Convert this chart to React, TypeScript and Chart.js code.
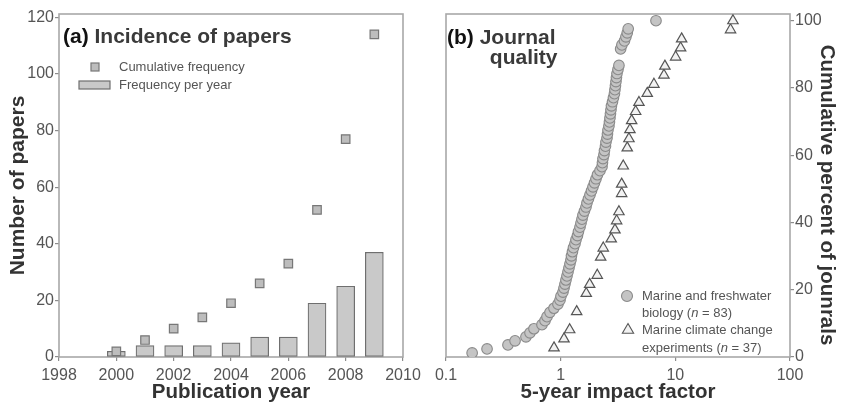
import React, { useEffect, useRef } from "react";
import { Chart, registerables } from "chart.js";

Chart.register(...registerables);

const FONT = '"Liberation Sans", Arial, Helvetica, sans-serif';

// ---- Panel (a) data ----
const years = [2000, 2001, 2002, 2003, 2004, 2005, 2006, 2007, 2008, 2009];
const perYear = [2, 4, 4, 4, 5, 7, 7, 19, 25, 37];
const cumulative = [2, 6, 10, 14, 19, 26, 33, 52, 77, 114];
const yearTicks = [1998, 2000, 2002, 2004, 2006, 2008, 2010];
const paperTicks = [0, 20, 40, 60, 80, 100, 120];

// ---- Panel (b) data ----
const bioIF = [
  0.169, 0.228, 0.347, 0.4, 0.498, 0.54, 0.585, 0.687, 0.73, 0.76,
  0.807, 0.874, 0.947, 0.986, 1.006, 1.047, 1.069, 1.09, 1.112, 1.135,
  1.158, 1.181, 1.205, 1.23, 1.242, 1.267, 1.293, 1.333, 1.36, 1.401,
  1.429, 1.473, 1.503, 1.534, 1.564, 1.611, 1.662, 1.695, 1.746, 1.8,
  1.856, 1.913, 1.972, 2.032, 2.094, 2.202, 2.293, 2.314, 2.338, 2.386,
  2.409, 2.459, 2.483, 2.535, 2.559, 2.585, 2.636, 2.663, 2.69, 2.717,
  2.745, 2.772, 2.831, 2.886, 2.944, 2.973, 3.004, 3.035, 3.064, 3.097,
  3.16, 3.222, 3.334, 3.42, 3.6, 3.707, 3.808, 3.881, 6.78,
];
const bioPct = [
  1.2, 2.4, 3.6, 4.8, 6.0, 7.2, 8.4, 9.6, 10.8, 12.0,
  13.3, 14.5, 15.7, 16.9, 18.1, 19.3, 20.5, 21.7, 22.9, 24.1,
  25.3, 26.5, 27.7, 28.9, 30.1, 31.3, 32.5, 33.7, 34.9, 36.1,
  37.3, 38.6, 39.8, 41.0, 42.2, 43.4, 44.6, 45.8, 47.0, 48.2,
  49.4, 50.6, 51.8, 53.0, 54.2, 55.4, 56.6, 57.8, 59.0, 60.2,
  61.4, 62.7, 63.9, 65.1, 66.3, 67.5, 68.7, 69.9, 71.1, 72.3,
  73.5, 74.7, 75.9, 77.1, 78.3, 79.5, 80.7, 81.9, 83.1, 84.3,
  85.5, 86.7, 91.6, 92.8, 94.0, 95.2, 96.4, 97.6, 100,
];
const expIF = [
  0.875, 1.069, 1.198, 1.379, 1.672, 1.79, 2.085, 2.232, 2.352, 2.761,
  2.975, 3.077, 3.222, 3.404, 3.404, 3.514, 3.807, 3.94, 4.019, 4.159,
  4.507, 4.817, 5.689, 6.507, 7.956, 8.11, 10.06, 11.12, 11.35, 30.3, 31.8,
];
const expPct = [
  2.7, 5.4, 8.1, 13.5, 18.9, 21.6, 24.3, 29.7, 32.4, 35.1,
  37.8, 40.5, 43.2, 48.6, 51.4, 56.8, 62.2, 64.9, 67.6, 70.3,
  73.0, 75.7, 78.4, 81.1, 83.8, 86.5, 89.2, 91.9, 94.6, 97.3, 100,
];
const ifTicks = [0.1, 1, 10, 100];
const pctTicks = [0, 20, 40, 60, 80, 100];

const TICK_COLOR = "#555";
const TITLE_COLOR = "#333";
const FRAME_COLOR = "#a8a8a8";

const framePlugin = {
  id: "frame",
  beforeDatasetsDraw(chart: any) {
    const { ctx, chartArea: a } = chart;
    ctx.save();
    ctx.strokeStyle = FRAME_COLOR;
    ctx.lineWidth = 1.6;
    ctx.strokeRect(a.left, a.top, a.right - a.left, a.bottom - a.top);
    ctx.restore();
  },
};

function drawTriangle(ctx: CanvasRenderingContext2D, x: number, y: number, r: number) {
  ctx.beginPath();
  for (let k = 0; k < 3; k++) {
    const ang = (k * 2 * Math.PI) / 3;
    const px = x + Math.sin(ang) * r;
    const py = y - Math.cos(ang) * r;
    if (k === 0) ctx.moveTo(px, py);
    else ctx.lineTo(px, py);
  }
  ctx.closePath();
}

const leftDecor = {
  id: "leftDecor",
  afterDraw(chart: any) {
    const ctx: CanvasRenderingContext2D = chart.ctx;
    const a = chart.chartArea;
    ctx.save();
    // panel title
    ctx.textBaseline = "alphabetic";
    ctx.textAlign = "left";
    ctx.font = `bold 21px ${FONT}`;
    const tx = a.left + 4;
    const ty = a.top + 29;
    ctx.fillStyle = "#111";
    ctx.fillText("(a)", tx, ty);
    const w = ctx.measureText("(a) ").width;
    ctx.fillStyle = "#3a3a3a";
    ctx.fillText("Incidence of papers", tx + w, ty);
    // legend
    ctx.lineWidth = 1.2;
    ctx.fillStyle = "#bdbdbd";
    ctx.strokeStyle = "#777";
    ctx.fillRect(a.left + 32, a.top + 49, 8, 8);
    ctx.strokeRect(a.left + 32, a.top + 49, 8, 8);
    ctx.fillStyle = "#c9c9c9";
    ctx.strokeStyle = "#6f6f6f";
    ctx.fillRect(a.left + 20, a.top + 67, 31, 8);
    ctx.strokeRect(a.left + 20, a.top + 67, 31, 8);
    ctx.font = `13px ${FONT}`;
    ctx.fillStyle = "#555";
    ctx.textBaseline = "middle";
    ctx.fillText("Cumulative frequency", a.left + 60, a.top + 53);
    ctx.fillText("Frequency per year", a.left + 60, a.top + 71);
    ctx.restore();
  },
};

function drawMixed(ctx: CanvasRenderingContext2D, parts: [string, boolean][], x: number, y: number) {
  let cx = x;
  for (const [t, it] of parts) {
    ctx.font = `${it ? "italic " : ""}13px ${FONT}`;
    ctx.fillText(t, cx, y);
    cx += ctx.measureText(t).width;
  }
}

const rightDecor = {
  id: "rightDecor",
  afterDraw(chart: any) {
    const ctx: CanvasRenderingContext2D = chart.ctx;
    const a = chart.chartArea;
    ctx.save();
    // panel title
    ctx.textBaseline = "alphabetic";
    ctx.textAlign = "left";
    ctx.font = `bold 21px ${FONT}`;
    const tx = a.left + 1;
    const ty = a.top + 30;
    ctx.fillStyle = "#111";
    ctx.fillText("(b)", tx, ty);
    const w = ctx.measureText("(b) ").width;
    ctx.fillStyle = "#3a3a3a";
    ctx.fillText("Journal", tx + w, ty);
    const jw = ctx.measureText("Journal").width;
    ctx.textAlign = "right";
    ctx.fillText("quality", tx + w + jw + 2, ty + 20);
    // legend
    ctx.lineWidth = 1.1;
    ctx.fillStyle = "#c4c4c4";
    ctx.strokeStyle = "#8a8a8a";
    ctx.beginPath();
    ctx.arc(627, 296, 5.5, 0, Math.PI * 2);
    ctx.fill();
    ctx.stroke();
    ctx.fillStyle = "#f2f2f2";
    ctx.strokeStyle = "#555";
    drawTriangle(ctx, 628, 330, 6.5);
    ctx.fill();
    ctx.stroke();
    ctx.textAlign = "left";
    ctx.textBaseline = "middle";
    ctx.fillStyle = "#555";
    drawMixed(ctx, [["Marine and freshwater", false]], 642, 296);
    drawMixed(ctx, [["biology (", false], ["n", true], [" = 83)", false]], 642, 313);
    drawMixed(ctx, [["Marine climate change", false]], 642, 330);
    drawMixed(ctx, [["experiments (", false], ["n", true], [" = 37)", false]], 642, 348);
    // right axis title
    ctx.translate(827, 195);
    ctx.rotate(Math.PI / 2);
    ctx.textAlign = "center";
    ctx.textBaseline = "middle";
    ctx.font = `bold 20.5px ${FONT}`;
    ctx.fillStyle = TITLE_COLOR;
    ctx.fillText("Cumulative percent of jounrals", 0, 0);
    ctx.restore();
  },
};

const gridOpts = {
  display: true,
  drawOnChartArea: false,
  drawTicks: true,
  tickLength: 4,
  color: "#8c8c8c",
  lineWidth: 1.2,
  offset: false,
};

function leftConfig(): any {
  return {
    type: "bar",
    data: {
      datasets: [
        {
          type: "scatter",
          label: "Cumulative frequency",
          data: years.map((y, i) => ({ x: y, y: cumulative[i] })),
          pointStyle: "rect",
          pointRadius: 6,
          backgroundColor: "#bdbdbd",
          borderColor: "#777",
          borderWidth: 1.2,
          order: 0,
        },
        {
          type: "bar",
          label: "Frequency per year",
          data: years.map((y, i) => ({ x: y, y: perYear[i] })),
          backgroundColor: "#c9c9c9",
          borderColor: "#6f6f6f",
          borderWidth: 1.2,
          borderSkipped: false,
          barThickness: 18,
          order: 1,
        },
      ],
    },
    options: {
      responsive: false,
      animation: false,
      layout: { padding: { left: 0, top: 14, right: 440, bottom: 0 } },
      plugins: { legend: { display: false }, tooltip: { enabled: false } },
      scales: {
        x: {
          type: "linear",
          min: 1998,
          max: 2010,
          offset: false,
          afterBuildTicks: (s: any) => {
            s.ticks = yearTicks.map((v) => ({ value: v }));
          },
          afterFit: (s: any) => {
            s.height = 48;
          },
          ticks: {
            color: TICK_COLOR,
            font: { size: 16, family: FONT },
            padding: 5,
            maxRotation: 0,
            autoSkip: false,
            callback: (v: any) => String(v),
          },
          grid: gridOpts,
          border: { display: false },
          title: {
            display: true,
            text: "Publication year",
            color: TITLE_COLOR,
            font: { size: 20.5, weight: "bold", family: FONT },
            padding: { top: 0, bottom: 0 },
          },
        },
        y: {
          type: "linear",
          position: "left",
          min: 0,
          max: 121.2,
          afterBuildTicks: (s: any) => {
            s.ticks = paperTicks.map((v) => ({ value: v }));
          },
          afterFit: (s: any) => {
            s.width = 59;
          },
          ticks: {
            color: TICK_COLOR,
            font: { size: 16, family: FONT },
            padding: 1,
            callback: (v: any) => String(v),
          },
          grid: gridOpts,
          border: { display: false },
          title: {
            display: true,
            text: "Number of papers",
            color: TITLE_COLOR,
            font: { size: 21, weight: "bold", family: FONT },
            padding: { top: 6, bottom: 0 },
          },
        },
      },
    },
    plugins: [framePlugin, leftDecor],
  };
}

function rightConfig(): any {
  return {
    type: "scatter",
    data: {
      datasets: [
        {
          label: "Marine and freshwater biology (n = 83)",
          data: bioIF.map((v, i) => ({ x: v, y: bioPct[i] })),
          pointStyle: "circle",
          pointRadius: 5.3,
          backgroundColor: "#c4c4c4",
          borderColor: "#8a8a8a",
          borderWidth: 1.1,
        },
        {
          label: "Marine climate change experiments (n = 37)",
          data: expIF.map((v, i) => ({ x: v, y: expPct[i] })),
          pointStyle: "triangle",
          pointRadius: 6,
          backgroundColor: "#f2f2f2",
          borderColor: "#555",
          borderWidth: 1.2,
        },
      ],
    },
    options: {
      responsive: false,
      animation: false,
      layout: { padding: { left: 446, top: 14, right: 0, bottom: 0 } },
      plugins: { legend: { display: false }, tooltip: { enabled: false } },
      scales: {
        x: {
          type: "logarithmic",
          min: 0.1,
          max: 100,
          afterBuildTicks: (s: any) => {
            s.ticks = ifTicks.map((v) => ({ value: v }));
          },
          afterFit: (s: any) => {
            s.height = 48;
          },
          ticks: {
            color: TICK_COLOR,
            font: { size: 16, family: FONT },
            padding: 5,
            maxRotation: 0,
            autoSkip: false,
            callback: (v: any) => String(v),
          },
          grid: gridOpts,
          border: { display: false },
          title: {
            display: true,
            text: "5-year impact factor",
            color: TITLE_COLOR,
            font: { size: 20.5, weight: "bold", family: FONT },
            padding: { top: 0, bottom: 0 },
          },
        },
        y: {
          type: "linear",
          position: "right",
          min: 0,
          max: 102,
          afterBuildTicks: (s: any) => {
            s.ticks = pctTicks.map((v) => ({ value: v }));
          },
          afterFit: (s: any) => {
            s.width = 53;
          },
          ticks: {
            color: TICK_COLOR,
            font: { size: 16, family: FONT },
            padding: 1,
            callback: (v: any) => String(v),
          },
          grid: gridOpts,
          border: { display: false },
        },
      },
    },
    plugins: [framePlugin, rightDecor],
  };
}

export default function App() {
  const leftRef = useRef<HTMLCanvasElement>(null);
  const rightRef = useRef<HTMLCanvasElement>(null);
  useEffect(() => {
    const c1 = new Chart(leftRef.current as HTMLCanvasElement, leftConfig());
    const c2 = new Chart(rightRef.current as HTMLCanvasElement, rightConfig());
    return () => {
      c1.destroy();
      c2.destroy();
    };
  }, []);
  const layer: React.CSSProperties = { position: "absolute", left: 0, top: 0, display: "block" };
  return (
    <div style={{ position: "absolute", left: 0, top: 0, width: 843, height: 405, background: "#fff", overflow: "hidden" }}>
      <canvas ref={leftRef} width={843} height={405} style={layer} />
      <canvas ref={rightRef} width={843} height={405} style={layer} />
    </div>
  );
}
